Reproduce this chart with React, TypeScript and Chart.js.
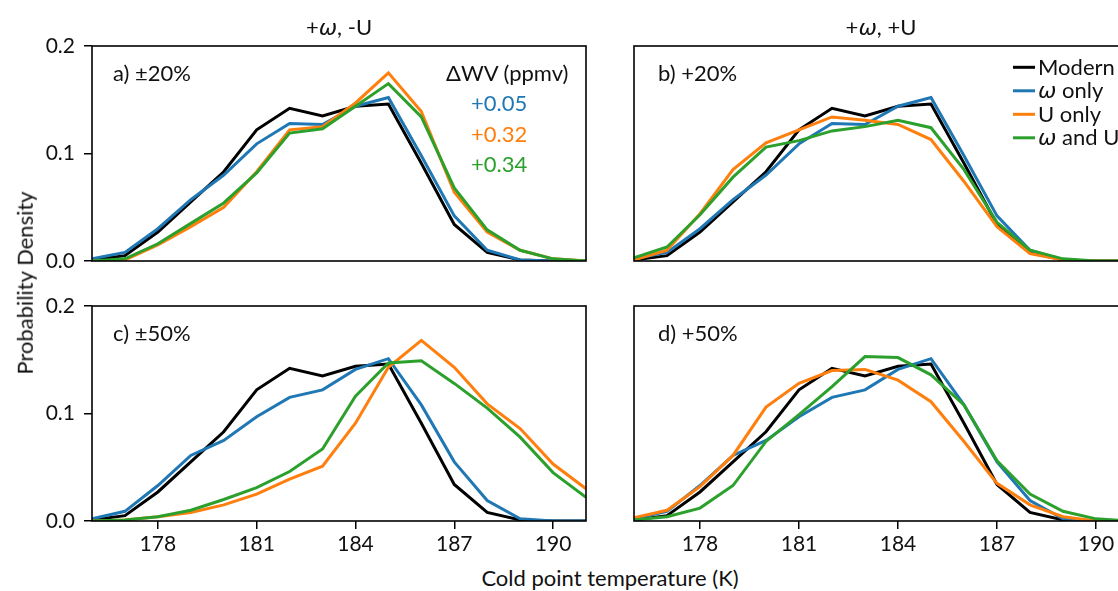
import React, { useEffect, useRef } from "react";
import { Chart, registerables } from "chart.js";

Chart.register(...registerables);

// ---------- data ----------
const temperatures = [176, 177, 178, 179, 180, 181, 182, 183, 184, 185, 186, 187, 188, 189, 190, 191];
const xTicks = [178, 181, 184, 187, 190];
const yTicks = [0, 0.1, 0.2];

const modern = [0.001, 0.005, 0.027, 0.055, 0.083, 0.122, 0.142, 0.135, 0.144, 0.146, 0.091, 0.034, 0.008, 0.001, 0.0, 0.0];

// ±20% / +20% perturbations
const omegaOnly20 = [0.002, 0.008, 0.03, 0.057, 0.08, 0.109, 0.128, 0.127, 0.144, 0.152, 0.098, 0.042, 0.01, 0.001, 0.0, 0.0];
const uOnlyPm20 = [0.0, 0.001, 0.015, 0.032, 0.05, 0.083, 0.122, 0.125, 0.147, 0.175, 0.139, 0.064, 0.027, 0.01, 0.002, 0.0];
const bothPm20 = [0.0, 0.002, 0.016, 0.035, 0.054, 0.082, 0.119, 0.123, 0.144, 0.165, 0.134, 0.068, 0.029, 0.01, 0.002, 0.0];
const uOnlyP20 = [0.001, 0.01, 0.044, 0.085, 0.11, 0.122, 0.134, 0.131, 0.127, 0.113, 0.074, 0.032, 0.007, 0.001, 0.0, 0.0];
const bothP20 = [0.003, 0.013, 0.043, 0.078, 0.106, 0.112, 0.121, 0.125, 0.131, 0.124, 0.085, 0.036, 0.01, 0.002, 0.0, 0.0];

// ±50% / +50% perturbations
const omegaOnly50 = [0.002, 0.009, 0.033, 0.061, 0.075, 0.097, 0.115, 0.122, 0.141, 0.151, 0.108, 0.055, 0.019, 0.002, 0.0, 0.0];
const uOnlyPm50 = [0.0, 0.001, 0.004, 0.008, 0.015, 0.025, 0.039, 0.051, 0.091, 0.143, 0.168, 0.143, 0.109, 0.086, 0.053, 0.03];
const bothPm50 = [0.0, 0.001, 0.004, 0.01, 0.02, 0.031, 0.046, 0.067, 0.116, 0.147, 0.149, 0.128, 0.105, 0.078, 0.045, 0.022];
const uOnlyP50 = [0.003, 0.01, 0.032, 0.061, 0.106, 0.128, 0.14, 0.141, 0.131, 0.111, 0.074, 0.035, 0.015, 0.004, 0.0, 0.0];
const bothP50 = [0.001, 0.004, 0.012, 0.033, 0.074, 0.099, 0.125, 0.153, 0.152, 0.136, 0.108, 0.056, 0.025, 0.009, 0.002, 0.0];

const seriesNames = ["Modern", "ω only", "U only", "ω and U"];
const seriesColors = ["#000000", "#1f77b4", "#ff7f0e", "#2ca02c"];
const deltaWV = ["+0.05", "+0.32", "+0.34"];

const FONT = "Lato, 'Noto Sans', sans-serif";
const TEXT = "#111111";

type PanelSpec = {
  series: number[][];
  left: number;
  top: number;
  width: number;
  height: number;
  showY: boolean;
  showX: boolean;
  padding: { top: number; right: number; bottom: number; left: number };
};

const framePlugin = {
  id: "frame",
  afterDatasetsDraw(chart: any) {
    const { ctx, chartArea } = chart;
    ctx.save();
    ctx.strokeStyle = "#000";
    ctx.lineWidth = 1.6;
    ctx.strokeRect(chartArea.left, chartArea.top, chartArea.right - chartArea.left, chartArea.bottom - chartArea.top);
    ctx.restore();
  },
};

function Panel({ spec }: { spec: PanelSpec }) {
  const ref = useRef<HTMLCanvasElement | null>(null);
  useEffect(() => {
    if (!ref.current) return;
    const datasets = spec.series.map((vals, i) => ({
      label: seriesNames[i],
      data: temperatures.map((t, j) => ({ x: t, y: vals[j] })),
      borderColor: seriesColors[i],
      backgroundColor: seriesColors[i],
      borderWidth: 3,
      pointRadius: 0,
      tension: 0,
      fill: false,
      order: spec.series.length - i,
    }));
    const chart = new Chart(ref.current, {
      type: "line",
      data: { datasets },
      plugins: [framePlugin],
      options: {
        animation: false,
        responsive: false,
        maintainAspectRatio: false,
        layout: { padding: spec.padding },
        plugins: { legend: { display: false }, tooltip: { enabled: false }, title: { display: false } },
        scales: {
          x: {
            type: "linear",
            min: 176,
            max: 191,
            display: spec.showX,
            afterBuildTicks: (axis: any) => {
              axis.ticks = xTicks.map((v) => ({ value: v }));
            },
            afterFit: (axis: any) => {
              if (spec.showX) axis.height = 40;
              axis.paddingLeft = 0;
              axis.paddingRight = 0;
              axis.paddingTop = 0;
              axis.paddingBottom = 0;
            },
            border: { display: false },
            grid: { display: true, drawOnChartArea: false, drawTicks: true, tickLength: 8, color: "#000", lineWidth: 1.5 },
            ticks: {
              font: { family: FONT, size: 21 },
              color: TEXT,
              padding: 3,
              maxRotation: 0,
              autoSkip: false,
              callback: (v: any) => String(v),
            },
          },
          y: {
            type: "linear",
            min: 0,
            max: 0.2,
            display: spec.showY,
            afterBuildTicks: (axis: any) => {
              axis.ticks = yTicks.map((v) => ({ value: v }));
            },
            afterFit: (axis: any) => {
              if (spec.showY) axis.width = 92;
              axis.paddingLeft = 0;
              axis.paddingRight = 0;
              axis.paddingTop = 0;
              axis.paddingBottom = 0;
            },
            border: { display: false },
            grid: { display: true, drawOnChartArea: false, drawTicks: true, tickLength: 8, color: "#000", lineWidth: 1.5 },
            ticks: {
              font: { family: FONT, size: 21 },
              color: TEXT,
              padding: 9,
              autoSkip: false,
              callback: (v: any) => Number(v).toFixed(1),
            },
          },
        },
      } as any,
    });
    return () => chart.destroy();
  }, [spec]);
  return (
    <canvas
      ref={ref}
      width={spec.width}
      height={spec.height}
      style={{ position: "absolute", left: spec.left, top: spec.top, width: spec.width, height: spec.height, display: "block" }}
    />
  );
}

const panels: PanelSpec[] = [
  { series: [modern, omegaOnly20, uOnlyPm20, bothPm20], left: 0, top: 30, width: 590, height: 245, showY: true, showX: false, padding: { top: 16, right: 4, bottom: 14, left: 0 } },
  { series: [modern, omegaOnly20, uOnlyP20, bothP20], left: 630, top: 30, width: 503, height: 245, showY: false, showX: false, padding: { top: 16, right: 4, bottom: 14, left: 4 } },
  { series: [modern, omegaOnly50, uOnlyPm50, bothPm50], left: 0, top: 290, width: 590, height: 271, showY: true, showX: true, padding: { top: 16, right: 4, bottom: 0, left: 0 } },
  { series: [modern, omegaOnly50, uOnlyP50, bothP50], left: 630, top: 290, width: 503, height: 271, showY: false, showX: true, padding: { top: 16, right: 4, bottom: 0, left: 4 } },
];

function Label({ x, y, children, align = "left", color = TEXT, size = 22, rotate = false }: any) {
  const tx = align === "center" ? "-50%" : "0";
  return (
    <div
      style={{
        position: "absolute",
        left: x,
        top: y,
        transform: rotate ? "translate(-50%, -50%) rotate(-90deg)" : `translate(${tx}, -50%)`,
        fontFamily: FONT,
        fontSize: size,
        lineHeight: 1.2,
        color,
        whiteSpace: "nowrap",
      }}
    >
      {children}
    </div>
  );
}

const W = <span style={{ fontFamily: "'DejaVu Sans', sans-serif", fontStyle: "italic" }}>ω</span>;

export default function App() {
  return (
    <div style={{ position: "fixed", left: 0, top: 0, width: 1118, height: 591, overflow: "hidden", background: "#fff" }}>
      {panels.map((p, i) => (
        <Panel key={i} spec={p} />
      ))}
      <Label x={339} y={28} align="center">+{W}, -U</Label>
      <Label x={881} y={28} align="center">+{W}, +U</Label>
      <Label x={25} y={283} rotate>Probability Density</Label>
      <Label x={610} y={578} align="center">Cold point temperature (K)</Label>
      <Label x={113} y={73}>a) ±20%</Label>
      <Label x={658} y={73}>b) +20%</Label>
      <Label x={113} y={333}>c) ±50%</Label>
      <Label x={658} y={333}>d) +50%</Label>
      <Label x={446} y={73}>ΔWV (ppmv)</Label>
      {deltaWV.map((t, i) => (
        <Label key={t} x={471} y={103 + i * 30.5} color={seriesColors[i + 1]}>{t}</Label>
      ))}
      {seriesNames.map((n, i) => (
        <div key={n} style={{ position: "absolute", left: 1013, top: 67 + i * 23.5, transform: "translateY(-50%)", display: "flex", alignItems: "center", fontFamily: FONT, fontSize: 22, lineHeight: 1.2, color: TEXT, whiteSpace: "nowrap" }}>
          <span style={{ display: "inline-block", width: 22, height: 3, background: seriesColors[i], marginRight: 3 }} />
          <span>{i === 1 ? <>{W} only</> : i === 3 ? <>{W} and U</> : n}</span>
        </div>
      ))}
    </div>
  );
}
